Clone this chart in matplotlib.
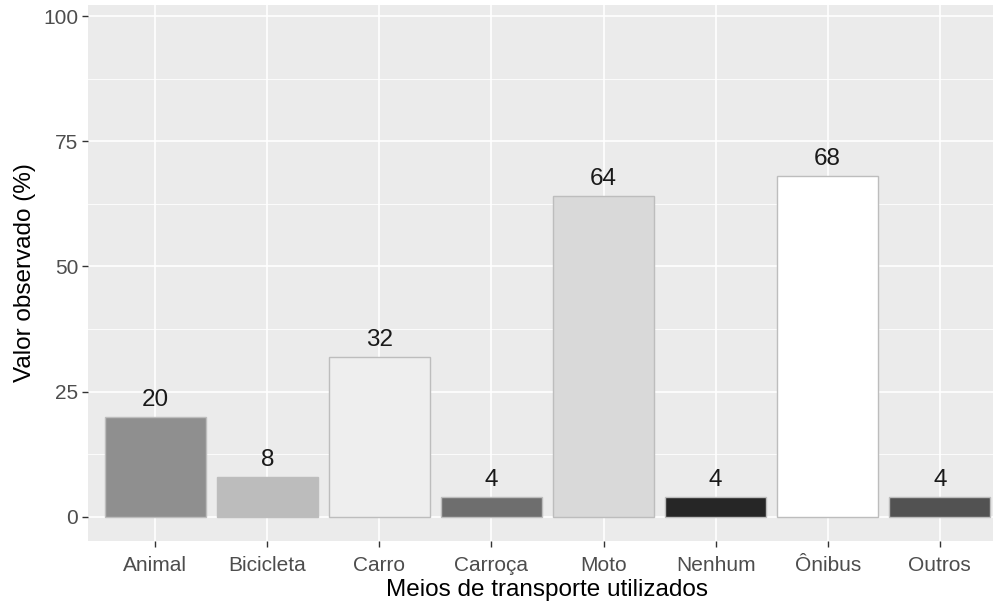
import matplotlib

matplotlib.use("Agg")
import matplotlib.pyplot as plt
import numpy as np

categories = ["Animal", "Bicicleta", "Carro", "Carroça", "Moto", "Nenhum", "Ônibus", "Outros"]
values = [20, 8, 32, 4, 64, 4, 68, 4]
fills = ["#8f8f8f", "#bcbcbc", "#eeeeee", "#6e6e6e", "#d9d9d9", "#262626", "#ffffff", "#525252"]
yticks = [0, 25, 50, 75, 100]

W, H = 993, 610
fig = plt.figure(figsize=(W / 100, H / 100), dpi=100, facecolor="white")
# panel runs slightly past the right edge of the image, as in the reference crop
ax = fig.add_axes([88 / W, (H - 541) / H, 919 / W, (541 - 5) / H])
ax.set_facecolor("#ebebeb")

x = np.arange(1, len(categories) + 1)
ax.set_xlim(0.4, 8.6)
ax.set_ylim(-4.8, 102.2)

for y in np.arange(12.5, 100, 25):
    ax.axhline(y, color="white", lw=0.6, zorder=0)
for y in yticks:
    ax.axhline(y, color="white", lw=1.2, zorder=0)
for xi in x:
    ax.axvline(xi, color="white", lw=1.2, zorder=0)

ax.bar(x, values, width=0.9, color=fills, edgecolor="#bdbdbd", linewidth=1.0, zorder=2)
for xi, v in zip(x, values):
    ax.text(xi, v + 1.2, str(v), ha="center", va="bottom", fontsize=17.5, color="#1a1a1a",
            family="Liberation Sans")

for s in ax.spines.values():
    s.set_visible(False)

ax.set_yticks(yticks)
ax.set_xticks(x)
ax.set_xticklabels(categories)
ax.tick_params(axis="both", colors="#333333", length=4, width=1, labelsize=15,
               labelcolor="#4d4d4d", pad=3)
ax.tick_params(axis="x", pad=7)
for lbl in ax.get_xticklabels() + ax.get_yticklabels():
    lbl.set_family("Liberation Sans")

ax.set_xlabel("Meios de transporte utilizados", fontsize=17.5, family="Liberation Sans", labelpad=3)
ax.set_ylabel("Valor observado (%)", fontsize=17.5, family="Liberation Sans", labelpad=5)

fig.savefig("out.png", dpi=100, facecolor="white")
